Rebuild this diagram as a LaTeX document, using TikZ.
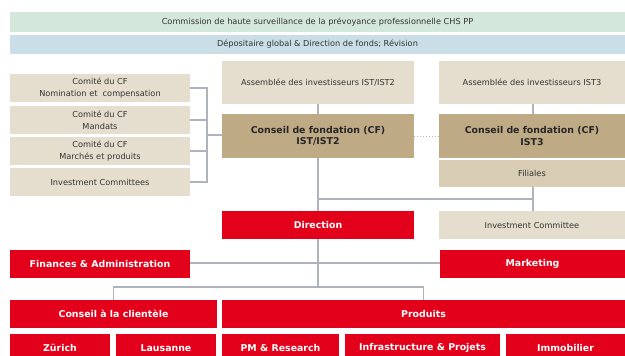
\documentclass[tikz,border=0pt]{standalone}
\usepackage{fontspec}
\setmainfont{DejaVu Sans}
\definecolor{cgreen}{HTML}{D4E7DB}
\definecolor{cblue}{HTML}{C9DEE7}
\definecolor{cbeige}{HTML}{E5DDCD}
\definecolor{ctan}{HTML}{BFAA86}
\definecolor{cfil}{HTML}{D8CCB4}
\definecolor{cred}{HTML}{E2001A}
\definecolor{cline}{HTML}{AEB4B9}
\definecolor{ctext}{HTML}{333333}
\tikzset{
  bx/.style={anchor=north west, inner sep=0pt, outer sep=0pt, align=center,
    text=ctext, font=\fontsize{8.2}{12}\selectfont},
  beige/.style={bx, fill=cbeige},
  tanbox/.style={bx, fill=ctan, text=black!85, font=\fontsize{9.4}{11.5}\selectfont\bfseries},
  redbox/.style={bx, fill=cred, text=white, font=\fontsize{9.4}{11.5}\selectfont\bfseries},
  conn/.style={draw=cline, line width=1.2pt},
}
\newcommand\boxat[7]{% style, name, x1, y1, x2, y2, text
  \node[#1, minimum width={(#5-#3)*1pt}, minimum height={(#6-#4)*1pt}] (#2) at (#3,#4) {#7};}
\begin{document}
\begin{tikzpicture}[x=1pt,y=-1pt]
\useasboundingbox (0,0) rectangle (625,356);
\coordinate (br) at (207,88);
\coordinate (brb) at (207,182);
\coordinate (bm) at (207,135);
\coordinate (j1) at (318,199);
\coordinate (j2) at (533,199);
\coordinate (ja) at (318,263);
\coordinate (jb) at (318,287);
\coordinate (jl) at (113.5,287);
\coordinate (jr) at (423.5,287);

\boxat{bx, fill=cgreen}{chs}{10}{12}{625}{32}{Commission de haute surveillance de la prévoyance professionnelle CHS PP}
\boxat{bx, fill=cblue}{dep}{10}{35}{625}{54}{Dépositaire global \& Direction de fonds; Révision}

\boxat{beige}{c1}{10}{74}{190}{102}{Comité du CF\\Nomination et\ \ compensation}
\boxat{beige}{c2}{10}{106}{190}{134}{Comité du CF\\Mandats}
\boxat{beige}{c3}{10}{137}{190}{165}{Comité du CF\\Marchés et produits}
\boxat{beige}{c4}{10}{168}{190}{196}{Investment Committees}

\boxat{beige}{a2}{222}{61}{414}{104}{Assemblée des investisseurs IST/IST2}
\boxat{beige}{a3}{439}{61}{625}{104}{Assemblée des investisseurs IST3}
\boxat{tanbox}{cf2}{222}{114}{414}{158}{Conseil de fondation (CF)\\IST/IST2}
\boxat{tanbox}{cf3}{439}{114}{625}{158}{Conseil de fondation (CF)\\IST3}
\boxat{beige, fill=cfil}{fil}{439}{160}{625}{187}{Filiales}

\boxat{redbox}{dir}{222}{211}{414}{239}{Direction}
\boxat{beige}{ic}{439}{211}{625}{239}{Investment Committee}

\boxat{redbox}{fin}{10}{250}{190}{278}{Finances \& Administration}
\boxat{redbox}{mkt}{440}{250}{625}{278}{Marketing}

\boxat{redbox}{cli}{10}{300}{217}{328}{Conseil à la clientèle}
\boxat{redbox}{prod}{222}{300}{625}{328}{Produits}

\boxat{redbox}{zh}{10}{334}{110}{362}{Zürich}
\boxat{redbox}{lau}{116}{334}{216}{362}{Lausanne}
\boxat{redbox}{pm}{222}{334}{339}{362}{PM \& Research}
\boxat{redbox}{inf}{345}{334}{500}{362}{Infrastructure \& Projets}
\boxat{redbox}{imm}{506}{334}{625}{362}{Immobilier}

\draw[conn] (c1.east) -- (br) -- (brb) -- (c4.east);
\draw[conn] (c2.east) -- (c2.east -| br);
\draw[conn] (c3.east) -- (c3.east -| br);
\draw[conn] (bm) -- (bm -| cf2.west);
\draw[conn] (a2.south -| j1) -- (cf2.north -| j1);
\draw[conn] (a3.south -| j2) -- (cf3.north -| j2);
\draw[conn] (cf2.south -| j1) -- (dir.north -| j1);
\draw[conn] (j1) -- (j2);
\draw[conn] (fil.south -| j2) -- (ic.north -| j2);
\draw[conn] (dir.south -| jb) -- (jb);
\draw[conn] (fin.east |- ja) -- (mkt.west |- ja);
\draw[conn] (cli.north -| jl) -- (jl) -- (jr) -- (prod.north -| jr);
\draw[draw=cline, line width=1pt, dotted] (cf2.east |- 0,136) -- (cf3.west |- 0,136);
\end{tikzpicture}
\end{document}
